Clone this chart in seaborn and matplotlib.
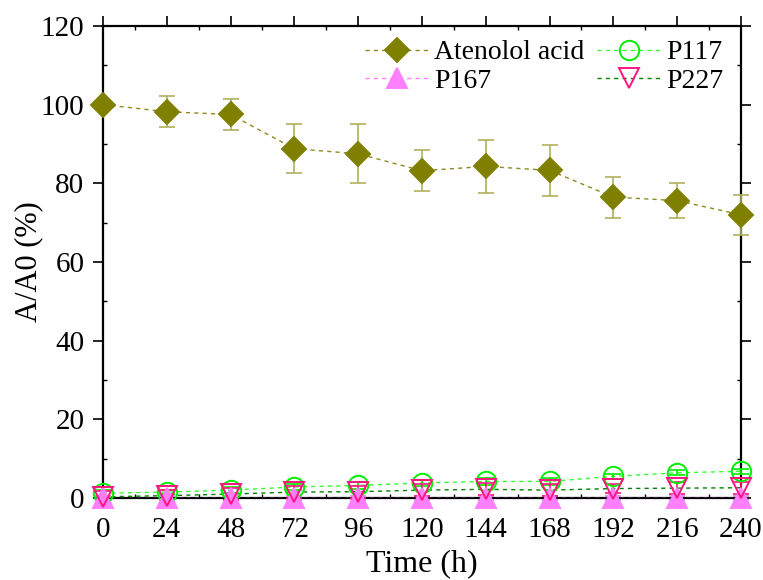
import numpy as np
import pandas as pd
import matplotlib
matplotlib.use("Agg")
import matplotlib.pyplot as plt
import seaborn as sns
from matplotlib.ticker import MultipleLocator
from matplotlib.lines import Line2D

time_h = [0, 24, 48, 72, 96, 120, 144, 168, 192, 216, 240]
atenolol = [100, 98.2, 97.5, 88.8, 87.5, 83.2, 84.3, 83.3, 76.5, 75.6, 72.0]
atenolol_err = [0, 4.0, 4.0, 6.2, 7.5, 5.2, 6.7, 6.5, 5.2, 4.4, 5.1]
p117 = [1.2, 1.5, 2.0, 2.8, 3.2, 3.8, 4.2, 4.2, 5.5, 6.4, 6.8]
p117_err = [0.9, 0.6, 0.8, 0.7, 0.9, 0.8, 0.8, 0.8, 0.6, 0.6, 0.6]
p167 = [0, 0, 0, 0, 0, 0, 0, 0, 0, 0, 0]
p167_err = [0.5, 0.5, 0.5, 0.5, 0.5, 0.5, 0.5, 0.5, 0.5, 0.5, 0.5]
p227 = [0.3, 0.6, 1.0, 1.5, 1.6, 2.0, 2.2, 2.0, 2.4, 2.5, 2.6]
p227_err = [1.5, 1.5, 1.5, 1.5, 1.5, 1.5, 1.5, 1.5, 1.2, 1.5, 1.5]

series_names = ["Atenolol acid", "P117", "P167", "P227"]

sns.set_style("ticks")
plt.rcParams['font.family'] = ['Liberation Serif', 'DejaVu Serif']
plt.rcParams['text.color'] = 'black'
plt.rcParams['axes.labelcolor'] = 'black'
plt.rcParams['xtick.color'] = 'black'
plt.rcParams['ytick.color'] = 'black'

fig = plt.figure(figsize=(7.63, 5.80), dpi=100)
ax = fig.add_axes([0.135, 0.1414, 0.836, 0.8138])

df = pd.DataFrame({"Time": time_h * 4,
                   "value": atenolol + p117 + p167 + p227,
                   "series": sum([[n] * len(time_h) for n in series_names], [])})

styles = {
    "Atenolol acid": dict(line="#8a8a20", marker="D", mfc="#808000", mec="#808000", ms=12, err=atenolol_err, ecol="#b0b060"),
    "P117": dict(line="#33ff33", marker="o", mfc="none", mec="#00ee00", ms=14, err=p117_err, ecol="#00ee00"),
    "P167": dict(line="#ff80ff", marker="^", mfc="#ff80ff", mec="#ff80ff", ms=15, err=p167_err, ecol="#cc88cc"),
    "P227": dict(line="#008000", marker="v", mfc="none", mec="#ff1480", ms=15, err=p227_err, ecol="#ff1480"),
}

for name in series_names:
    st = styles[name]
    sub = df[df.series == name]
    sns.lineplot(data=sub, x="Time", y="value", ax=ax, color=st["line"],
                 lw=1.0, linestyle=(0, (3, 3)), legend=False, zorder=3)
    ax.errorbar(sub["Time"], sub["value"], yerr=st["err"], fmt="none",
                ecolor=st["ecol"], elinewidth=1.2, capsize=6, capthick=1.2,
                zorder=4, clip_on=False)
    ax.plot(sub["Time"], sub["value"], linestyle="none", marker=st["marker"],
            mfc=st["mfc"], mec=st["mec"], ms=st["ms"], mew=1.4,
            zorder=5, clip_on=False)

leg_names = ["Atenolol acid", "P167", "P117", "P227"]
leg_handles = []
for name in leg_names:
    st = styles[name]
    leg_handles.append(Line2D([], [], color=st["line"], lw=1.0, linestyle=(0, (3, 3)),
                              marker=st["marker"], mfc=st["mfc"], mec=st["mec"],
                              ms=st["ms"], mew=1.4))
ax.legend(leg_handles, leg_names, ncol=2,
          loc="upper right", frameon=False, fontsize=20, handlelength=2.3,
          columnspacing=0.45, handletextpad=0.2, labelspacing=0.1,
          borderaxespad=0.1, bbox_to_anchor=(0.995, 1.0))

ax.set_xlim(0, 240)
ax.set_ylim(0, 120)
ax.xaxis.set_major_locator(MultipleLocator(24))
ax.xaxis.set_minor_locator(MultipleLocator(12))
ax.yaxis.set_major_locator(MultipleLocator(20))
ax.yaxis.set_minor_locator(MultipleLocator(10))
ax.tick_params(axis="both", which="major", labelsize=21, direction="out", length=7, width=1.2, colors="black", pad=6.5)
ax.tick_params(axis="both", which="minor", direction="in", length=3, width=1.0)
ax.tick_params(top=True, right=True, which="both")
ax.set_xlabel("Time (h)", fontsize=23)
ax.set_ylabel("A/A0 (%)", fontsize=22)
ax.yaxis.set_label_coords(-0.094, 0.5)
ax.xaxis.set_label_coords(0.5, -0.108)
for sp in ax.spines.values():
    sp.set_linewidth(1.6)
    sp.set_color("black")
    sp.set_zorder(2)

fig.savefig("out.png", dpi=100)
